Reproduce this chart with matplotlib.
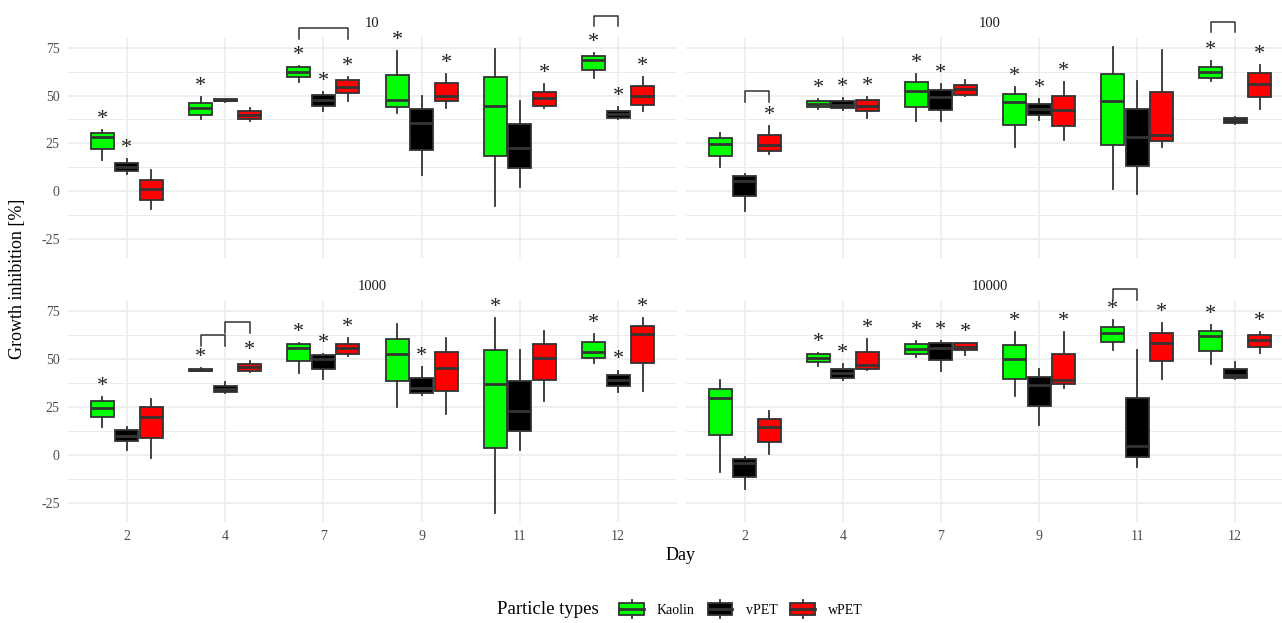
import matplotlib
matplotlib.use("Agg")
import matplotlib.pyplot as plt
from matplotlib.patches import Patch, Rectangle
from matplotlib.lines import Line2D
from matplotlib.legend_handler import HandlerPatch

plt.rcParams['font.family'] = ['Liberation Serif', 'DejaVu Serif']
plt.rcParams['axes.unicode_minus'] = False

days = ["2", "4", "7", "9", "11", "12"]
types = ["Kaolin", "vPET", "wPET"]
colors = ["#00FF00", "#000000", "#FF0000"]
panels = ["10", "100", "1000", "10000"]

# box stats per panel: rows = Kaolin, vPET, wPET; columns = days
lo_10 = [[16.1, 37.8, 57.0, 40.8, -7.8, 59.0],
         [9.2, 46.8, 41.7, 8.3, 2.3, 37.8],
         [-9.5, 36.6, 47.4, 43.6, 43.4, 41.8]]
q1_10 = [[22.0, 39.9, 59.9, 43.9, 18.4, 63.4],
         [10.4, 47.0, 44.8, 21.4, 12.2, 38.4],
         [-4.7, 37.8, 51.4, 47.0, 44.4, 45.3]]
med_10 = [[28.3, 43.4, 62.5, 47.9, 44.8, 68.6],
          [12.7, 47.5, 47.7, 35.6, 22.6, 40.1],
          [0.9, 40.0, 54.7, 49.7, 48.8, 49.7]]
q3_10 = [[30.6, 46.2, 64.8, 60.6, 59.5, 70.8],
         [14.9, 48.0, 50.3, 43.1, 35.1, 41.8],
         [6.1, 42.0, 58.2, 56.3, 51.6, 54.9]]
hi_10 = [[31.8, 49.1, 65.3, 73.1, 74.3, 72.2],
         [17.0, 48.2, 51.7, 50.0, 47.4, 43.9],
         [10.9, 43.4, 59.5, 61.3, 56.1, 59.9]]

lo_100 = [[12.7, 43.1, 36.5, 23.1, 0.9, 57.5],
          [-10.2, 42.2, 36.6, 37.3, -1.2, 35.2],
          [19.3, 38.2, 50.0, 26.9, 23.1, 43.1]]
q1_100 = [[18.2, 43.9, 43.9, 34.4, 24.0, 59.0],
          [-2.6, 43.6, 42.5, 39.6, 13.2, 35.6],
          [21.2, 41.7, 50.3, 34.0, 26.0, 49.1]]
med_100 = [[24.5, 45.7, 52.3, 46.5, 47.4, 62.2],
           [5.2, 45.3, 49.5, 43.1, 28.3, 37.0],
           [24.1, 44.3, 53.5, 42.2, 29.2, 56.1]]
q3_100 = [[27.8, 47.0, 57.3, 50.7, 61.3, 64.8],
          [8.0, 47.4, 53.0, 45.7, 42.9, 38.4],
          [29.3, 47.9, 55.7, 49.7, 51.6, 61.6]]
hi_100 = [[30.6, 48.3, 61.3, 54.7, 75.2, 68.2],
          [8.9, 48.8, 56.1, 48.1, 57.5, 38.7],
          [33.9, 49.1, 58.3, 56.9, 73.8, 66.0]]

lo_1000 = [[14.5, 43.7, 42.7, 24.7, -30.0, 47.9],
           [2.6, 32.2, 39.4, 31.0, 2.6, 32.8],
           [-1.4, 43.0, 51.4, 21.4, 28.2, 33.4]]
q1_1000 = [[19.5, 43.9, 49.1, 38.3, 3.5, 50.5],
           [7.0, 32.8, 44.9, 32.2, 12.5, 35.7],
           [8.7, 43.9, 52.3, 33.4, 39.2, 47.9]]
med_1000 = [[24.4, 44.4, 55.4, 52.3, 37.1, 53.7],
            [10.1, 34.5, 49.7, 34.8, 22.6, 39.2],
            [19.7, 45.6, 55.4, 45.3, 50.2, 62.7]]
q3_1000 = [[27.9, 44.8, 57.5, 60.5, 54.4, 58.9],
           [13.1, 36.1, 51.9, 40.1, 38.7, 41.8],
           [24.7, 47.4, 57.8, 53.5, 57.8, 67.1]]
hi_1000 = [[30.1, 45.0, 58.0, 68.3, 71.1, 63.1],
           [14.3, 37.8, 52.6, 45.6, 54.4, 43.9],
           [29.3, 48.8, 61.0, 61.0, 64.5, 71.4]]

lo_10000 = [[-8.7, 46.2, 51.0, 30.5, 54.5, 47.4],
            [-17.8, 39.2, 43.6, 15.7, -6.1, 39.7],
            [0.3, 44.1, 51.9, 34.8, 39.7, 53.1]]
q1_10000 = [[10.5, 48.4, 52.6, 39.7, 58.7, 54.0],
            [-11.3, 40.1, 49.3, 25.6, -0.9, 40.1],
            [6.6, 44.9, 54.4, 36.9, 48.8, 56.1]]
med_10000 = [[29.6, 50.2, 55.2, 49.8, 63.2, 61.8],
             [-4.4, 42.7, 55.7, 36.6, 4.7, 41.8],
             [14.3, 47.0, 55.9, 39.2, 58.4, 59.8]]
q3_10000 = [[34.5, 52.3, 57.5, 57.1, 66.7, 64.5],
            [-2.3, 44.9, 58.4, 40.6, 29.6, 44.8],
            [18.6, 53.5, 58.0, 52.3, 63.2, 62.4]]
hi_10000 = [[39.2, 53.1, 59.2, 63.9, 70.0, 67.4],
            [-0.9, 47.4, 59.2, 44.8, 54.4, 48.4],
            [23.0, 60.1, 58.4, 63.9, 68.5, 63.9]]

# significance marks (1 = asterisk)
sig_10 = [[1, 1, 1, 1, 0, 1], [1, 0, 1, 0, 0, 1], [0, 0, 1, 1, 1, 1]]
sig_100 = [[0, 1, 1, 1, 0, 1], [0, 1, 1, 1, 0, 0], [1, 1, 0, 1, 0, 1]]
sig_1000 = [[1, 1, 1, 0, 1, 1], [0, 0, 1, 1, 0, 1], [0, 1, 1, 0, 0, 1]]
sig_10000 = [[0, 1, 1, 1, 1, 1], [0, 1, 1, 0, 0, 0], [0, 1, 1, 1, 1, 1]]

# comparison brackets: (day index, type a, type b, top, leg end)
br_10 = [(2, 0, 2, 85.3, 79.5), (5, 0, 1, 91.7, 86.3)]
br_100 = [(0, 1, 2, 52.4, 46.6), (5, 0, 1, 88.6, 83.2)]
br_1000 = [(1, 0, 1, 62.5, 56.7), (1, 1, 2, 69.3, 63.5)]
br_10000 = [(4, 0, 1, 86.5, 80.7)]

data = {
    "10": (lo_10, q1_10, med_10, q3_10, hi_10, sig_10, br_10),
    "100": (lo_100, q1_100, med_100, q3_100, hi_100, sig_100, br_100),
    "1000": (lo_1000, q1_1000, med_1000, q3_1000, hi_1000, sig_1000, br_1000),
    "10000": (lo_10000, q1_10000, med_10000, q3_10000, hi_10000, sig_10000, br_10000),
}

W, H = 1282, 623
fig = plt.figure(figsize=(W / 100, H / 100), dpi=100)

# panel boxes in pixels: left, top, right, bottom
boxes = [(68, 37, 677, 258), (686, 37, 1294, 258),
         (68, 300, 677, 522), (686, 300, 1294, 522)]

edge = "#333333"
grid = "#EBEBEB"
offsets = [-0.25, 0.0, 0.25]

for k, name in enumerate(panels):
    l, t, r, b = boxes[k]
    ax = fig.add_axes([l / W, 1 - b / H, (r - l) / W, (b - t) / H])
    lo, q1, med, q3, hi, sig, br = data[name]
    x = list(range(1, len(days) + 1))
    for g in range(3):
        stats = []
        for d in range(len(days)):
            stats.append(dict(whislo=lo[g][d], q1=q1[g][d], med=med[g][d],
                              q3=q3[g][d], whishi=hi[g][d], fliers=[]))
        pos = [xi + offsets[g] for xi in x]
        ax.bxp(stats, positions=pos, widths=0.235, patch_artist=True,
               showcaps=False, showfliers=False, manage_ticks=False,
               boxprops=dict(facecolor=colors[g], edgecolor=edge, linewidth=1.3),
               medianprops=dict(color=edge, linewidth=2.0),
               whiskerprops=dict(color=edge, linewidth=1.3))
        for d in range(len(days)):
            if sig[g][d]:
                ax.text(pos[d], hi[g][d] + 5.5, "*", ha="center", va="center",
                        fontsize=16, color="#222222")
    for d, a, c, top, leg in br:
        xa = x[d] + offsets[a]
        xc = x[d] + offsets[c]
        ax.plot([xa, xa, xc, xc], [leg, top, top, leg], color=edge,
                linewidth=1.1, clip_on=False)

    ax.set_xlim(0.4, 6.6)
    ax.set_ylim(-34.9, 80.6)
    ax.set_xticks(x)
    ax.set_xticklabels(days)
    ax.set_yticks([-25, 0, 25, 50, 75])
    ax.set_yticks([-12.5, 12.5, 37.5, 62.5], minor=True)
    ax.grid(True, which="major", color=grid, linewidth=1.1)
    ax.grid(True, which="minor", axis="y", color=grid, linewidth=0.7)
    ax.set_axisbelow(True)
    for s in ax.spines.values():
        s.set_visible(False)
    ax.tick_params(which="both", length=0, labelsize=10, labelcolor="#4D4D4D")
    ax.tick_params(axis="y", pad=6)
    ax.tick_params(axis="x", pad=6)
    if k < 2:
        ax.tick_params(labelbottom=False)
    if k % 2 == 1:
        ax.tick_params(labelleft=False)
    ax.set_title(name, fontsize=10.5, color="#1A1A1A", pad=7)

fig.text(18 / W, 1 - 279 / H, "Growth inhibition [%]", rotation=90,
         ha="center", va="center", fontsize=13)
fig.text(681 / W, 1 - 555 / H, "Day", ha="center", va="center", fontsize=13)


class BoxKey(HandlerPatch):
    def create_artists(self, legend, orig_handle, xdescent, ydescent,
                       width, height, fontsize, trans):
        x0, y0 = -xdescent, -ydescent
        box = Rectangle((x0, y0 + 0.16 * height), width, 0.68 * height,
                        facecolor=orig_handle.get_facecolor(), edgecolor=edge,
                        linewidth=1.3, transform=trans)
        mid = y0 + 0.5 * height
        med = Line2D([x0, x0 + width], [mid, mid], color=edge, linewidth=2.0,
                     transform=trans)
        cx = x0 + width / 2
        w1 = Line2D([cx, cx], [y0 - 0.05 * height, y0 + 0.16 * height],
                    color=edge, linewidth=1.3, transform=trans)
        w2 = Line2D([cx, cx], [y0 + 0.84 * height, y0 + 1.05 * height],
                    color=edge, linewidth=1.3, transform=trans)
        return [w1, w2, box, med]


handles = [Patch(facecolor=c) for c in colors]
fig.legend(handles, types, handler_map={Patch: BoxKey()}, ncol=3,
           loc="center", bbox_to_anchor=(741 / W, 1 - 609 / H), frameon=False,
           fontsize=10, handlelength=1.75, handleheight=1.5,
           handletextpad=0.95, columnspacing=0.95)
fig.text(599 / W, 1 - 609 / H, "Particle types", ha="right", va="center",
         fontsize=13.5)

fig.savefig("out.png", dpi=100)
